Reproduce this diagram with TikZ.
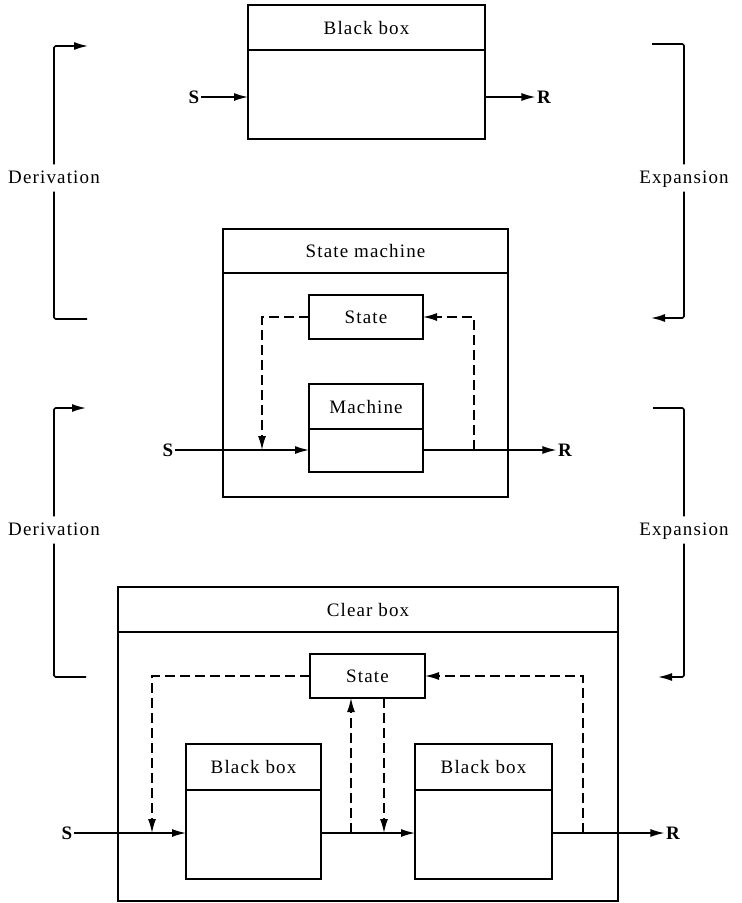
\documentclass[tikz,border=0pt]{standalone}
\usepackage{fontspec}
\setmainfont{Liberation Serif}[LetterSpace=6]
\usetikzlibrary{arrows.meta}

\tikzset{
  tip/.tip={Latex[length=14pt,width=8pt]},
  box/.style={draw, line width=1.6pt, inner sep=0pt, outer sep=0pt},
  lbl/.style={font=\fontsize{19}{22}\selectfont},
  brklbl/.style={lbl, text height=13.5pt, text depth=3.5pt, inner xsep=2pt, inner ysep=5pt},
  io/.style={font=\fontsize{19}{22}\selectfont\bfseries, inner sep=1.5pt},
  flow/.style={line width=1.4pt, -tip},
  fb/.style={flow, dash pattern=on 10pt off 5pt},
  brk/.style={line width=1.6pt, line join=round, rounded corners=1.5pt},
  brkarrow/.style={brk, -tip}
}

\begin{document}
\begin{tikzpicture}[x=1pt, y=-1pt]
  \useasboundingbox (0,0) rectangle (742,903);

  % ---- black box ----
  \node[box,lbl,minimum width=237pt,minimum height=45pt] (bbT) at (366.5,27.5) {Black box};
  \node[box,minimum width=237pt,minimum height=89pt] (bbB) at (366.5,94.5) {};
  \node[io] (s1) at (194,97) {S};
  \node[io] (r1) at (544,97) {R};
  \draw[flow] (s1.east) -- (s1.east -| bbB.west);
  \draw[flow] (bbB.east |- r1.west) -- (r1.west);

  % ---- state machine ----
  \node[box,lbl,minimum width=285pt,minimum height=44pt] (smT) at (365.5,251) {State machine};
  \node[box,minimum width=285pt,minimum height=224pt] (smB) at (365.5,385) {};
  \node[box,lbl,minimum width=114pt,minimum height=44pt] (st1) at (366,317) {State};
  \node[box,lbl,minimum width=114pt,minimum height=45pt] (mT) at (366,406.5) {Machine};
  \node[box,minimum width=114pt,minimum height=43pt] (mB) at (366,450.5) {};
  \node[io] (s2) at (168,450) {S};
  \node[io] (r2) at (565,450) {R};
  \coordinate (j1) at (262,450);
  \coordinate (k1) at (474,450);
  \draw[flow] (s2.east) -- (s2.east -| mB.west);
  \draw[flow] (mB.east |- r2.west) -- (r2.west);
  \draw[fb] (st1.west) -| (j1);
  \draw[fb] (k1) |- (st1.east);

  % ---- clear box ----
  \node[box,lbl,minimum width=500pt,minimum height=45pt] (cbT) at (368,609.5) {Clear box};
  \node[box,minimum width=500pt,minimum height=269pt] (cbB) at (368,766.5) {};
  \node[box,lbl,minimum width=115pt,minimum height=44pt] (st2) at (367.5,676) {State};
  \node[box,lbl,minimum width=135pt,minimum height=46pt] (b1T) at (253.5,767) {Black box};
  \node[box,minimum width=135pt,minimum height=89pt] (b1B) at (253.5,834.5) {};
  \node[box,lbl,minimum width=137pt,minimum height=46pt] (b2T) at (483.5,767) {Black box};
  \node[box,minimum width=137pt,minimum height=89pt] (b2B) at (483.5,834.5) {};
  \node[io] (s3) at (67,833) {S};
  \node[io] (r3) at (673,833) {R};
  \coordinate (j2) at (152,833);
  \coordinate (u2) at (351,833);
  \coordinate (d2) at (384,833);
  \coordinate (k2) at (583,833);
  \draw[flow] (s3.east) -- (s3.east -| b1B.west);
  \draw[flow] (b1B.east |- u2) -- (u2 -| b2B.west);
  \draw[flow] (b2B.east |- k2) -- (r3.west);
  \draw[fb] (st2.west) -| (j2);
  \draw[fb] (u2) -- (u2 |- st2.south);
  \draw[fb] (d2 |- st2.south) -- (d2);
  \draw[fb] (k2) |- (st2.east);

  % ---- side brackets ----
  \node[brklbl] (der1) at (54,178) {Derivation};
  \node[brklbl] (der2) at (54,530) {Derivation};
  \node[brklbl] (exp1) at (684,178) {Expansion};
  \node[brklbl] (exp2) at (684,530) {Expansion};
  \coordinate (d1a) at (88,46);
  \coordinate (d1b) at (87,319);
  \coordinate (d2a) at (86,408);
  \coordinate (d2b) at (86,677);
  \coordinate (e1a) at (652,44);
  \coordinate (e1b) at (651,318);
  \coordinate (e2a) at (653,408);
  \coordinate (e2b) at (658,677);
  \draw[brkarrow] (der1.north) |- (d1a);
  \draw[brk] (der1.south) |- (d1b);
  \draw[brkarrow] (der2.north) |- (d2a);
  \draw[brk] (der2.south) |- (d2b);
  \draw[brk] (e1a) -| (exp1.north);
  \draw[brkarrow] (exp1.south) |- (e1b);
  \draw[brk] (e2a) -| (exp2.north);
  \draw[brkarrow] (exp2.south) |- (e2b);
\end{tikzpicture}
\end{document}
